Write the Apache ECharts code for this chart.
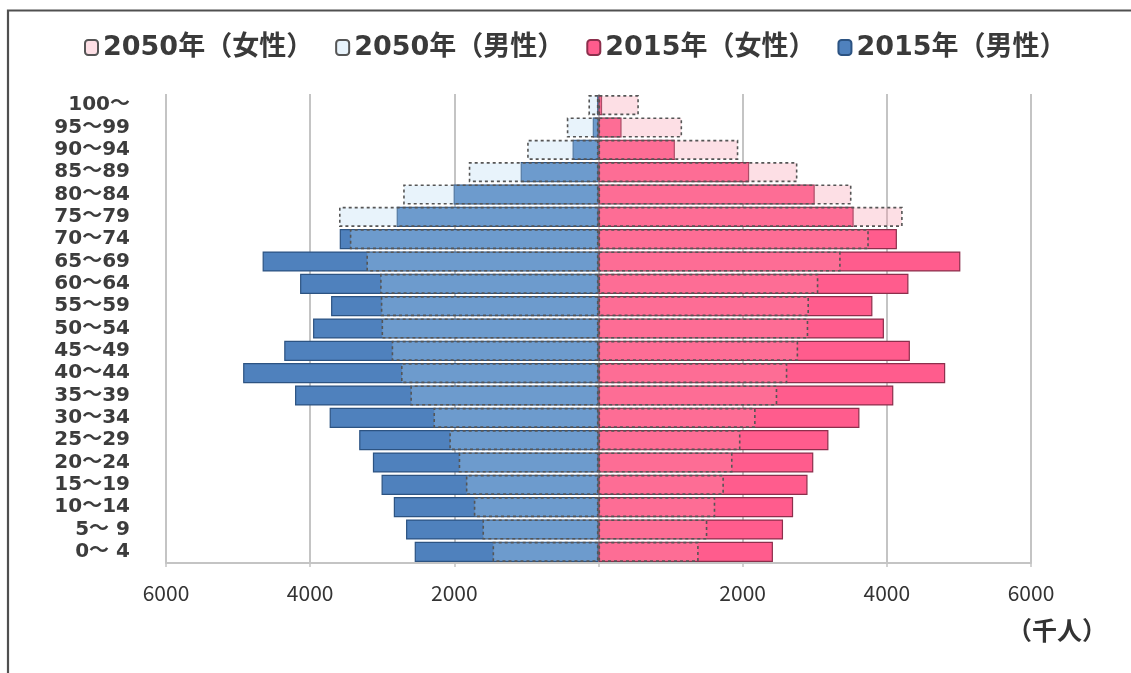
<!DOCTYPE html>
<html>
<head>
<meta charset="utf-8">
<script src="https://cdn.jsdelivr.net/npm/echarts@6/dist/echarts.min.js"></script>
<style>
  html, body { margin: 0; padding: 0; background: #ffffff; }
  #chart { width: 1131px; height: 673px; }
</style>
</head>
<body>
<div id="chart"></div>
<script>
// Age groups, youngest at the bottom of the pyramid
const ageGroups = ['0～ 4', '5～ 9', '10～14', '15～19', '20～24', '25～29', '30～34',
  '35～39', '40～44', '45～49', '50～54', '55～59', '60～64', '65～69', '70～74',
  '75～79', '80～84', '85～89', '90～94', '95～99', '100～'];

// Population in thousands
const male2015 = [2550, 2670, 2840, 3010, 3130, 3320, 3730, 4210, 4930, 4360, 3960,
  3710, 4140, 4660, 3590, 2800, 2010, 1080, 360, 80, 20];
const female2015 = [2420, 2560, 2700, 2900, 2980, 3190, 3620, 4090, 4810, 4320, 3960,
  3800, 4300, 5020, 4140, 3540, 3000, 2090, 1060, 320, 50];
const male2050 = [1470, 1610, 1730, 1840, 1940, 2070, 2290, 2610, 2740, 2870, 3010,
  3020, 3030, 3220, 3450, 3600, 2710, 1800, 990, 440, 140];
const female2050 = [1390, 1510, 1620, 1740, 1860, 1970, 2180, 2480, 2620, 2770, 2910,
  2920, 3050, 3360, 3750, 4220, 3510, 2760, 1940, 1160, 560];

const axisTicks = [-6000, -4000, -2000, 0, 2000, 4000, 6000];

const NAME_F50 = '2050年（女性）';
const NAME_M50 = '2050年（男性）';
const NAME_F15 = '2015年（女性）';
const NAME_M15 = '2015年（男性）';

const neg = arr => arr.map(v => -v);

const chart = echarts.init(document.getElementById('chart'), null, { renderer: 'canvas' });

const wideFont = 'DejaVu Sans, "Noto Sans CJK JP", sans-serif';

chart.setOption({
  animation: false,
  backgroundColor: '#ffffff',
  legend: {
    data: [NAME_F50, NAME_M50, NAME_F15, NAME_M15],
    left: 79,
    top: 29,
    itemWidth: 13,
    itemHeight: 15,
    itemGap: 22,
    textStyle: {
      fontFamily: wideFont,
      fontSize: 27,
      fontWeight: 'bold',
      color: '#3a3a3a'
    }
  },
  grid: { left: 166, right: 100, top: 94, bottom: 110, containLabel: false },
  xAxis: {
    type: 'value',
    min: axisTicks[0],
    max: axisTicks[axisTicks.length - 1],
    interval: 2000,
    axisLine: { show: true, lineStyle: { color: '#c4c4c4', width: 2 } },
    axisTick: { show: true, length: 4, lineStyle: { color: '#c4c4c4', width: 1.5 } },
    splitLine: { show: true, lineStyle: { color: '#c4c4c4', width: 2 } },
    axisLabel: {
      margin: 20,
      fontFamily: '"Noto Sans CJK JP", sans-serif',
      fontSize: 21,
      color: '#333333',
      formatter: v => (v === 0 ? '' : String(Math.abs(v)))
    }
  },
  yAxis: {
    type: 'category',
    data: ageGroups,
    axisLine: { show: false },
    axisTick: { show: false },
    splitLine: { show: false },
    axisLabel: {
      interval: 0,
      margin: 36,
      fontFamily: wideFont,
      fontSize: 20,
      lineHeight: 22,
      fontWeight: 'bold',
      color: '#3c3c3c'
    }
  },
  series: [
    {
      name: NAME_M15,
      type: 'bar',
      data: neg(male2015),
      barWidth: '90%',
      barGap: '-100%',
      itemStyle: { color: '#4f81bd', borderColor: '#2c5382', borderWidth: 1.2 }
    },
    {
      name: NAME_F15,
      type: 'bar',
      data: female2015,
      barWidth: '90%',
      barGap: '-100%',
      itemStyle: { color: '#ff5c8d', borderColor: '#8c2f4c', borderWidth: 1.2 }
    },
    {
      name: NAME_M50,
      type: 'bar',
      data: neg(male2050),
      barWidth: '90%',
      barGap: '-100%',
      itemStyle: {
        color: 'rgba(180,214,242,0.3)',
        borderColor: '#555555',
        borderWidth: 1.6,
        borderType: [3, 3]
      }
    },
    {
      name: NAME_F50,
      type: 'bar',
      data: female2050,
      barWidth: '90%',
      barGap: '-100%',
      itemStyle: {
        color: 'rgba(248,150,168,0.3)',
        borderColor: '#555555',
        borderWidth: 1.6,
        borderType: [3, 3]
      }
    }
  ],
  graphic: [
    {
      type: 'text',
      right: 24,
      top: 618,
      style: {
        text: '（千人）',
        fontFamily: '"Noto Sans CJK JP", sans-serif',
        fontSize: 25,
        fontWeight: 'bold',
        fill: '#333333'
      }
    },
    {
      type: 'polyline',
      shape: { points: [[8, 673], [8, 10.5], [1131, 10.5]] },
      style: { stroke: '#505050', lineWidth: 2.2, fill: null }
    }
  ]
});
</script>
</body>
</html>
